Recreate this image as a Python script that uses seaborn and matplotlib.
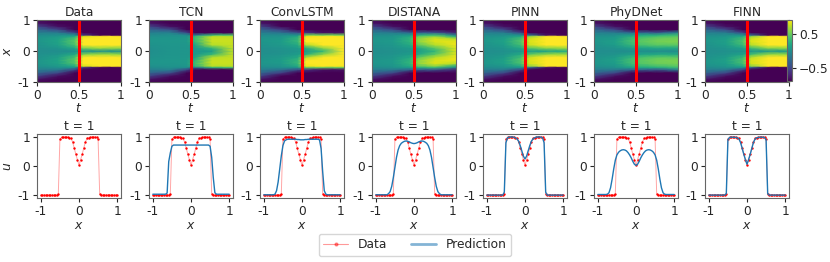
import numpy as np
import matplotlib
matplotlib.use("Agg")
import matplotlib.pyplot as plt
from matplotlib.lines import Line2D
import seaborn as sns

models = ["Data", "TCN", "ConvLSTM", "DISTANA", "PINN", "PhyDNet", "FINN"]

# ---- heatmap fields: half domain (x >= 0), symmetric in x ----
x_nodes = [0.0, 0.1, 0.2, 0.3, 0.4, 0.48, 0.52, 0.6, 0.7, 0.8, 0.9, 1.0]
t_nodes = [0.0, 0.25, 0.45, 0.55, 0.75, 1.0]
u_init = [0.0, 0.01, 0.03, 0.05, 0.05, 0.01, -0.02, -0.11, -0.29, -0.52, -0.77, -1.0]

field_data = [
    [0.0, 0.05, 0.12, 0.16, 0.14, 0.08, 0.03, -0.15, -0.5, -0.8, -0.95, -1.0],
    [0.0, 0.2, 0.38, 0.45, 0.4, 0.2, 0.05, -0.5, -0.95, -1.0, -1.0, -1.0],
    [0.02, 0.55, 0.9, 0.95, 0.92, 0.8, -0.6, -1.0, -1.0, -1.0, -1.0, -1.0],
    [0.03, 0.65, 0.97, 0.99, 0.99, 0.95, -0.95, -1.0, -1.0, -1.0, -1.0, -1.0],
    [0.02, 0.6, 0.96, 0.99, 0.99, 0.97, -0.97, -1.0, -1.0, -1.0, -1.0, -1.0],
]
field_tcn = [
    [0.05, 0.05, 0.06, 0.07, 0.06, 0.04, 0.02, -0.1, -0.45, -0.8, -0.95, -1.0],
    [0.06, 0.06, 0.07, 0.08, 0.08, 0.05, 0.0, -0.5, -0.9, -1.0, -1.0, -1.0],
    [0.07, 0.08, 0.15, 0.3, 0.35, 0.3, -0.2, -0.95, -1.0, -1.0, -1.0, -1.0],
    [0.1, 0.3, 0.7, 0.75, 0.75, 0.72, 0.3, -0.95, -1.0, -1.0, -1.0, -1.0],
    [0.72, 0.74, 0.75, 0.75, 0.75, 0.72, 0.4, -0.9, -1.0, -1.0, -1.0, -1.0],
]
field_convlstm = [
    [0.02, 0.04, 0.08, 0.1, 0.08, 0.04, 0.0, -0.2, -0.55, -0.85, -0.97, -1.0],
    [0.05, 0.1, 0.2, 0.3, 0.3, 0.2, 0.05, -0.45, -0.9, -1.0, -1.0, -1.0],
    [0.1, 0.25, 0.7, 0.9, 0.9, 0.85, 0.5, -0.6, -1.0, -1.0, -1.0, -1.0],
    [0.3, 0.6, 0.92, 0.95, 0.95, 0.9, 0.5, -0.8, -1.0, -1.0, -1.0, -1.0],
    [0.9, 0.92, 0.93, 0.93, 0.92, 0.88, 0.5, -0.8, -1.0, -1.0, -1.0, -1.0],
]
field_distana = [
    [0.02, 0.04, 0.07, 0.09, 0.08, 0.05, 0.02, -0.15, -0.5, -0.8, -0.95, -1.0],
    [0.05, 0.1, 0.2, 0.28, 0.28, 0.2, 0.1, -0.3, -0.85, -1.0, -1.0, -1.0],
    [0.1, 0.2, 0.45, 0.6, 0.6, 0.45, 0.25, -0.35, -0.9, -1.0, -1.0, -1.0],
    [0.3, 0.45, 0.7, 0.8, 0.8, 0.6, 0.35, -0.4, -0.95, -1.0, -1.0, -1.0],
    [0.78, 0.8, 0.85, 0.84, 0.7, 0.2, -0.1, -0.7, -1.0, -1.0, -1.0, -1.0],
]
field_pinn = [
    [0.02, 0.05, 0.1, 0.14, 0.12, 0.06, 0.02, -0.15, -0.5, -0.8, -0.95, -1.0],
    [0.05, 0.2, 0.35, 0.42, 0.38, 0.2, 0.05, -0.5, -0.95, -1.0, -1.0, -1.0],
    [0.1, 0.45, 0.75, 0.8, 0.78, 0.6, -0.2, -0.95, -1.0, -1.0, -1.0, -1.0],
    [0.15, 0.6, 0.95, 0.98, 0.98, 0.95, -0.8, -1.0, -1.0, -1.0, -1.0, -1.0],
    [0.22, 0.65, 0.97, 0.99, 0.99, 0.97, -0.95, -1.0, -1.0, -1.0, -1.0, -1.0],
]
field_phydnet = [
    [0.0, 0.04, 0.1, 0.13, 0.1, 0.05, 0.02, -0.15, -0.5, -0.8, -0.95, -1.0],
    [0.0, 0.12, 0.3, 0.38, 0.35, 0.25, 0.15, -0.3, -0.85, -1.0, -1.0, -1.0],
    [0.0, 0.15, 0.38, 0.45, 0.42, 0.3, 0.2, -0.3, -0.9, -1.0, -1.0, -1.0],
    [0.0, 0.2, 0.45, 0.52, 0.5, 0.38, 0.25, -0.4, -0.95, -1.0, -1.0, -1.0],
    [0.0, 0.2, 0.45, 0.55, 0.53, 0.45, 0.35, -0.1, -0.9, -1.0, -1.0, -1.0],
]
field_finn = [
    [0.02, 0.05, 0.1, 0.13, 0.11, 0.06, 0.02, -0.15, -0.5, -0.8, -0.95, -1.0],
    [0.03, 0.15, 0.32, 0.4, 0.36, 0.2, 0.05, -0.5, -0.95, -1.0, -1.0, -1.0],
    [0.05, 0.35, 0.7, 0.8, 0.78, 0.6, -0.3, -0.95, -1.0, -1.0, -1.0, -1.0],
    [0.08, 0.6, 0.95, 0.98, 0.98, 0.95, -0.85, -1.0, -1.0, -1.0, -1.0, -1.0],
    [0.08, 0.62, 0.97, 0.99, 0.99, 0.97, -0.95, -1.0, -1.0, -1.0, -1.0, -1.0],
]
fields = [field_data, field_tcn, field_convlstm, field_distana,
          field_pinn, field_phydnet, field_finn]

# ---- profiles at t = 1 on 49 points ----
# left half (x = -1 ... 0), mirrored for the symmetric ones
data_half = [-1.0, -1.0, -1.0, -1.0, -1.0, -1.0, -1.0, -1.0, -1.0, -1.0, -1.0,
             -0.95, 0.93, 0.98, 0.99, 0.99, 0.99, 0.98, 0.97, 0.95, 0.82, 0.62,
             0.4, 0.22, 0.02]
tcn_full = [-0.97, -0.97, -0.97, -0.97, -0.97, -0.97, -0.97, -0.97, -0.97,
            -0.93, 0.15, 0.45, 0.68,
            0.72, 0.72, 0.72, 0.72, 0.72, 0.72, 0.72, 0.72, 0.72, 0.72, 0.72,
            0.72, 0.72, 0.72, 0.72, 0.72, 0.72, 0.72, 0.72, 0.72, 0.72, 0.72,
            0.72, 0.68, 0.3, -0.4, -0.92,
            -0.97, -0.97, -0.97, -0.97, -0.97, -0.97, -0.97, -0.97, -0.97]
convlstm_full = [-0.99, -0.99, -0.99, -0.99, -0.99, -0.99, -0.99,
                 -0.97, -0.85, -0.55, -0.1, 0.35, 0.7, 0.86, 0.9,
                 0.92, 0.92, 0.92, 0.92, 0.92, 0.92, 0.91, 0.91, 0.9, 0.9,
                 0.9, 0.91, 0.91, 0.92, 0.92, 0.92, 0.92, 0.92, 0.92,
                 0.92, 0.9, 0.6, -0.2, -0.85, -0.97,
                 -0.99, -0.99, -0.99, -0.99, -0.99, -0.99, -0.99, -0.99, -0.99]
distana_half = [-0.99, -0.99, -0.99, -0.99, -0.99, -0.99, -0.99, -0.99,
                -0.95, -0.88, -0.7, -0.4, -0.05, 0.3, 0.55, 0.7, 0.78, 0.82,
                0.85, 0.86, 0.85, 0.83, 0.8, 0.78, 0.77]
pinn_half = [-1.0, -1.0, -1.0, -1.0, -1.0, -1.0, -1.0, -1.0, -1.0, -1.0, -1.0,
             -0.9, 0.8, 0.97, 0.99, 1.0, 1.0, 0.99, 0.97, 0.93, 0.85, 0.7,
             0.52, 0.34, 0.24]
phydnet_half = [-0.98, -0.98, -0.98, -0.98, -0.98, -0.98,
                -0.97, -0.92, -0.75, -0.45, -0.1, 0.2, 0.38, 0.47, 0.52, 0.55,
                0.56, 0.55, 0.52, 0.46, 0.38, 0.28, 0.16, 0.06, 0.02]
finn_half = [-1.0, -1.0, -1.0, -1.0, -1.0, -1.0, -1.0, -1.0, -1.0, -1.0, -1.0,
             -0.95, 0.9, 0.98, 0.99, 0.99, 0.99, 0.98, 0.97, 0.92, 0.8, 0.6,
             0.4, 0.22, 0.06]


def full_from_half(h):
    h = np.asarray(h)
    return np.concatenate([h, h[-2::-1]])


def mirror_nodes(h):
    # node values given for x = 0..1 -> values for x = -1..1
    h = np.asarray(h)
    return np.concatenate([h[::-1], h[1:]])


data_u = full_from_half(data_half)
preds = [None, np.array(tcn_full), np.array(convlstm_full),
         full_from_half(distana_half), full_from_half(pinn_half),
         full_from_half(phydnet_half), full_from_half(finn_half)]
xs = np.linspace(-1, 1, 49)

sns.set_style("ticks", {"axes.edgecolor": "0.4"})
plt.rcParams["font.family"] = ["DejaVu Sans"]
plt.rcParams["font.size"] = 8.8
plt.rcParams["xtick.major.size"] = 3
plt.rcParams["ytick.major.size"] = 3
plt.rcParams["xtick.major.pad"] = 2
plt.rcParams["ytick.major.pad"] = 2

W, H = 830, 262
fig = plt.figure(figsize=(W / 100, H / 100), dpi=100)

lefts = [37, 149, 260, 372, 483, 594, 705]
aw = 84
xn = np.asarray(x_nodes)
x_full = np.concatenate([-xn[::-1], xn[1:]])
T, X = np.meshgrid(t_nodes, x_full)

mesh = None
for i, name in enumerate(models):
    # top row: space-time field
    ax = fig.add_axes([lefts[i] / W, 1 - 82 / H, aw / W, 62 / H])
    cols = [mirror_nodes(u_init)] + [mirror_nodes(c) for c in fields[i]]
    U = np.column_stack(cols)
    mesh = ax.pcolormesh(T, X, U, shading="gouraud", cmap="viridis",
                         vmin=-0.87, vmax=0.9, rasterized=True)
    ax.axvline(0.5, color="red", lw=2.2)
    ax.set_xlim(0, 1)
    ax.set_ylim(-1, 1)
    ax.set_xticks([0, 0.5, 1])
    ax.set_xticklabels(["0", "0.5", "1"])
    ax.set_yticks([-1, 0, 1])
    ax.set_yticklabels(["-1", "0", "1"])
    ax.set_title(name, fontsize=8.8, pad=3)
    ax.set_xlabel("$t$", labelpad=0)
    if i == 0:
        ax.set_ylabel("$x$", labelpad=3)

    # bottom row: profile at t = 1
    bx = fig.add_axes([lefts[i] / W, 1 - 198 / H, aw / W, 64 / H])
    sns.lineplot(x=xs, y=data_u, ax=bx, color="red", alpha=0.35, lw=0.7)
    sns.scatterplot(x=xs, y=data_u, ax=bx, color="red", s=3, linewidth=0,
                    zorder=3)
    if preds[i] is not None:
        sns.lineplot(x=xs, y=preds[i], ax=bx, color="#1f77b4", lw=1.0,
                     zorder=4)
    bx.set_xlim(-1.1, 1.1)
    bx.set_ylim(-1.1, 1.1)
    bx.set_xticks([-1, 0, 1])
    bx.set_xticklabels(["-1", "0", "1"])
    bx.set_yticks([-1, 0, 1])
    bx.set_yticklabels(["-1", "0", "1"])
    bx.set_title("t = 1", fontsize=8.8, pad=3)
    bx.set_xlabel("$x$", labelpad=1)
    if i == 0:
        bx.set_ylabel("$u$", labelpad=3)
    else:
        bx.set_ylabel("")

cax = fig.add_axes([787 / W, 1 - 81 / H, 5 / W, 61 / H])
cb = fig.colorbar(mesh, cax=cax, ticks=[-0.5, 0.5])
cb.outline.set_edgecolor("0.4")
cax.tick_params(labelsize=8.8, length=3)

handles = [
    Line2D([], [], color="red", alpha=0.4, lw=0.8, marker="o", markersize=2,
           markerfacecolor="red", markeredgecolor="red"),
    Line2D([], [], color="#1f77b4", alpha=0.55, lw=2),
]
fig.legend(handles, ["Data", "Prediction"], loc="center",
           bbox_to_anchor=(415 / W, 1 - 245 / H), ncol=2, fontsize=8.8,
           columnspacing=2.0)

fig.savefig("out.png", dpi=100)
